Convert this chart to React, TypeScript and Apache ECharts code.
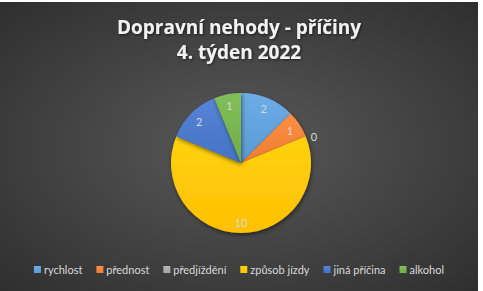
import React, { useEffect, useRef } from "react";
import * as echarts from "echarts";

const titleLines = ["Dopravní nehody - příčiny", "4. týden 2022"];
const categories = ["rychlost", "přednost", "předjíždění", "způsob jízdy", "jiná příčina", "alkohol"];
const values = [2, 1, 0, 10, 2, 1];
const colors = ["#5B9BD5", "#ED7D31", "#A5A5A5", "#FFC000", "#4472C4", "#70AD47"];

const lighten = (hex: string, amt: number) => {
  const n = parseInt(hex.slice(1), 16);
  const r = Math.min(255, ((n >> 16) & 255) + amt);
  const g = Math.min(255, ((n >> 8) & 255) + amt);
  const b = Math.min(255, (n & 255) + amt);
  return `rgb(${r},${g},${b})`;
};

export default function App() {
  const ref = useRef<HTMLDivElement>(null);
  useEffect(() => {
    document.body.style.margin = "0";
    const chart = echarts.init(ref.current!, undefined, { renderer: "svg" });
    const center = [241, 161];
    const R = 70;
    const labelColor = "#d9d9d9";
    chart.setOption({
      animation: false,
      backgroundColor: {
        type: "radial",
        x: 0.5,
        y: 0.5,
        r: 0.75,
        colorStops: [
          { offset: 0, color: "#595959" },
          { offset: 1, color: "#2c2c2c" },
        ],
      },
      color: colors,
      title: {
        text: titleLines.join("\n"),
        left: "center",
        top: 7,
        textStyle: {
          color: "#f2f2f2",
          fontFamily: "Open Sans",
          fontWeight: "bold",
          fontSize: 19,
          lineHeight: 25,
          textShadowColor: "rgba(0,0,0,0.6)",
          textShadowBlur: 3,
          textShadowOffsetX: 1,
          textShadowOffsetY: 1,
        },
      },
      legend: {
        bottom: 11,
        left: "center",
        icon: "rect",
        itemWidth: 7,
        itemHeight: 7,
        itemGap: 14,
        textStyle: { color: labelColor, fontFamily: "Lato", fontSize: 11, padding: [0, 0, 0, -2] },
        data: categories,
      },
      series: [
        {
          type: "pie",
          center,
          radius: [0, R],
          startAngle: 90,
          clockwise: true,
          avoidLabelOverlap: false,
          label: { show: false },
          labelLine: { show: false, length: 0, length2: 0 },
          itemStyle: {
            shadowColor: "rgba(0,0,0,0.5)",
            shadowBlur: 4,
            shadowOffsetX: 1,
            shadowOffsetY: 2,
          },
          data: categories.map((name, i) => ({
            name,
            value: values[i],
            itemStyle: {
              color: {
                type: "linear",
                x: 0, y: 0, x2: 0, y2: 1,
                colorStops: [
                  { offset: 0, color: lighten(colors[i], 18) },
                  { offset: 1, color: colors[i] },
                ],
              },
            },
            label:
              values[i] === 0
                ? {
                    show: true,
                    position: "outside",
                    formatter: "{c}",
                    color: labelColor,
                    fontFamily: "Lato",
                    fontSize: 11,
                  }
                : { show: false },
          })),
        },
        {
          type: "pie",
          center,
          radius: [0, R * 1.6],
          startAngle: 90,
          clockwise: true,
          silent: true,
          legendHoverLink: false,
          avoidLabelOverlap: false,
          itemStyle: { color: "rgba(0,0,0,0)" },
          emphasis: { disabled: true },
          label: {
            show: true,
            position: "inside",
            color: labelColor,
            fontFamily: "Lato",
            fontSize: 11,
            formatter: "{c}",
          },
          labelLine: { show: false },
          data: categories.map((name, i) => ({
            name: name + " ",
            value: values[i],
            label: { show: values[i] !== 0 },
          })),
        },
      ],
    });
    return () => chart.dispose();
  }, []);
  return (
    <div style={{ width: 483, height: 291, background: "#fff", position: "relative" }}>
      <div ref={ref} style={{ position: "absolute", left: 0, top: 2, width: 478, height: 289 }} />
    </div>
  );
}
